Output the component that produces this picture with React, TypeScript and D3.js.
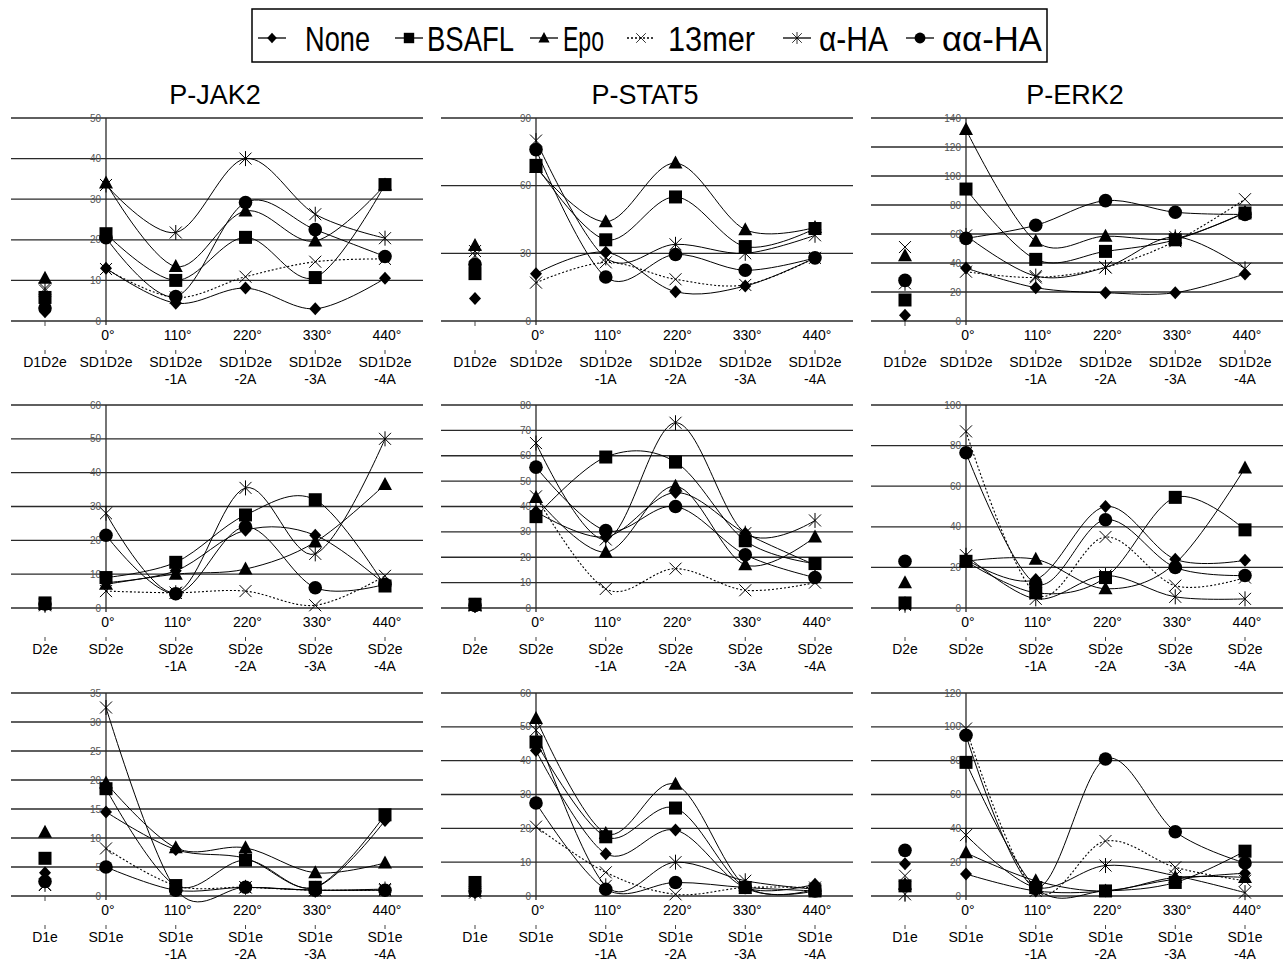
import React from 'react';
import * as d3 from 'd3';

const SERIES = ['None', 'BSAFL', 'Epo', '13mer', 'α-HA', 'αα-HA'];
const PROTEINS = ['P-JAK2', 'P-STAT5', 'P-ERK2'];
const DEGREES = ['0°', '110°', '220°', '330°', '440°'];
const CONTROLS = ['D1D2e', 'D2e', 'D1e'];
const CONSTRUCTS = ['SD1D2e', 'SD2e', 'SD1e'];
const SUFFIXES = ['', '-1A', '-2A', '-3A', '-4A'];

// y axis max and step, rows (D1D2e, D2e, D1e) x columns (JAK2, STAT5, ERK2)
const Y_MAX = [[50, 90, 140], [60, 80, 100], [35, 60, 120]];
const Y_STEP = [[10, 30, 20], [10, 10, 20], [5, 10, 20]];

// each row: control, 0°, 110°, 220°, 330°, 440° ; rows in SERIES order
const jak2D1D2e = [
  [2.3, 13, 4.4, 8.1, 3, 10.5],
  [5.8, 21.5, 10, 20.6, 10.7, 33.6],
  [10.5, 34, 13.4, 27.1, 19.7, 33.5],
  [8, 12.8, 5.8, 10.9, 14.6, 15.3],
  [7.5, 33.5, 21.8, 40, 26.3, 20.4],
  [3.2, 20.5, 6, 29.2, 22.5, 15.9],
];
const stat5D1D2e = [
  [10, 21, 30.5, 13, 15.5, 28],
  [21, 69, 36, 55, 33, 41],
  [33.5, 68, 44, 70, 40.5, 41.5],
  [29, 17, 26, 18.5, 16, 28],
  [31, 80, 28, 34, 30, 38],
  [25, 76, 19.5, 29.5, 22.5, 28],
];
const erk2D1D2e = [
  [4, 36.5, 23, 19.5, 19.5, 32.5],
  [14.5, 91, 42.5, 48, 56, 74.5],
  [45, 132, 55, 58.5, 57, 75],
  [51, 34, 30, 37, 55, 84],
  [26, 59, 31, 37, 58, 36],
  [28, 57, 66, 83, 75, 73.5],
];
const jak2D2e = [
  [1, 7.5, 11, 23, 21.5, 7],
  [1.5, 9, 13.5, 27.5, 32, 6.5],
  [1, 7, 10, 11.5, 19.5, 36.5],
  [0.8, 5, 4.5, 5, 0.8, 9.5],
  [1, 28, 4.5, 35.5, 16, 50],
  [1.2, 21.5, 4.2, 24, 6, 7],
];
const stat5D2e = [
  [1, 38, 28, 45.5, 29.5, 17],
  [1.5, 36, 59.5, 57.5, 26.5, 17.5],
  [1, 43.5, 22, 48, 17, 28],
  [1, 44, 7.5, 15.5, 7, 10],
  [1, 65, 27, 73, 29.5, 34.5],
  [1, 55.5, 30.5, 40, 21, 12],
];
const erk2D2e = [
  [2, 24, 14, 50, 24, 23.5],
  [2.5, 23, 7.5, 15, 54.5, 38.5],
  [12.5, 23, 24, 9.5, 22, 69],
  [1.5, 87, 7, 35, 11, 15],
  [2, 26, 4.5, 16, 5.5, 4.5],
  [23, 76.5, 12, 43.5, 20, 16],
];
const jak2D1e = [
  [4, 14.5, 8, 6.5, 1.5, 13],
  [6.5, 18.5, 1.8, 6.2, 1.5, 14],
  [11, 19.5, 8.3, 8.3, 4, 5.7],
  [1.9, 8.2, 1.8, 1.5, 1, 1],
  [2, 32.5, 1.2, 1.5, 1, 1.2],
  [2.5, 5, 1, 1.5, 1, 1],
];
const stat5D1e = [
  [1, 43, 12.5, 19.5, 2.5, 3.5],
  [4, 45.5, 17.5, 26, 2.5, 1.5],
  [1.5, 52.5, 18.5, 33, 3, 2],
  [1, 20.5, 7, 0.5, 2.5, 2.5],
  [1.5, 49, 3, 10, 4.5, 2],
  [1.5, 27.5, 2, 4, 2.5, 1.5],
];
const erk2D1e = [
  [19, 13, 3, 3, 10, 13.5],
  [6, 79, 5, 3, 8, 26.5],
  [7, 25.5, 9, 3, 11, 11],
  [12, 99, 3, 32.5, 17, 9],
  [1, 36, 5, 18, 12, 2],
  [27, 95, 5, 81, 38, 19.5],
];

const PANELS = [
  [jak2D1D2e, stat5D1D2e, erk2D1D2e],
  [jak2D2e, stat5D2e, erk2D2e],
  [jak2D1e, stat5D1e, erk2D1e],
];

const W = 1287;
const H = 962;
const COL_X = [0, 430, 860];
const ROW_TOP = [118, 405, 693];
const PLOT_H = 203;
const FONT = 'Liberation Sans, Arial, sans-serif';

const LEGEND_ITEMS = [
  { x: 258, tx: 305, tw: 65 },
  { x: 395, tx: 427, tw: 87 },
  { x: 530, tx: 563, tw: 41 },
  { x: 627, tx: 668, tw: 87 },
  { x: 783, tx: 819, tw: 69 },
  { x: 906, tx: 942, tw: 100 },
];

function Marker({ kind, x, y, s = 1 }: { kind: number; x: number; y: number; s?: number }) {
  const t = `translate(${x},${y}) scale(${s})`;
  if (kind === 0) return <path transform={t} d="M0,-6.5L6,0L0,6.5L-6,0Z" fill="#000" />;
  if (kind === 1) return <rect transform={t} x={-6.5} y={-6.5} width={13} height={13} fill="#000" />;
  if (kind === 2) return <path transform={t} d="M0,-7.5L7,5.5L-7,5.5Z" fill="#000" />;
  if (kind === 3)
    return (
      <path transform={t} d="M-6,-6L6,6M6,-6L-6,6" stroke="#000" strokeWidth={1} fill="none" />
    );
  if (kind === 4)
    return (
      <path transform={t} d="M-6,-6L6,6M6,-6L-6,6M0,-7.5L0,7.5" stroke="#000" strokeWidth={1} fill="none" />
    );
  return <circle transform={t} r={6.8} fill="#000" />;
}

function Panel({ row, col }: { row: number; col: number }) {
  const ox = COL_X[col];
  const top = ROW_TOP[row];
  const zero = top + PLOT_H;
  const data = PANELS[row][col];
  const y = d3.scaleLinear().domain([0, Y_MAX[row][col]]).range([zero, top]);
  const ticks = d3.range(0, Y_MAX[row][col] + 0.001, Y_STEP[row][col]);
  // control sits left of the y axis, the five constructs right of it
  const x = d3.scaleLinear().domain([0, 1, 5]).range([ox + 45, ox + 106, ox + 385]);
  const axisX = x(1);
  const line = d3
    .line<number>()
    .x((_, i) => x(i + 1))
    .y((v) => y(v))
    .curve(d3.curveCardinal.tension(0));

  return (
    <g>
      {ticks.map((t) => (
        <line key={'g' + t} x1={ox + 11} x2={ox + 423} y1={y(t)} y2={y(t)} stroke="#2a2a2a" strokeWidth={1.3} />
      ))}
      <line x1={axisX} x2={axisX} y1={top} y2={zero + 4} stroke="#2a2a2a" strokeWidth={1.3} />
      {ticks.map((t) => (
        <text
          key={'t' + t}
          x={axisX - 5}
          y={y(t) + 3.5}
          textAnchor="end"
          fontSize={10}
          fill="#555"
          fontFamily={FONT}
        >
          {t}
        </text>
      ))}
      <line x1={x(0)} x2={x(0)} y1={zero} y2={zero + 5} stroke="#444" />
      {d3.range(6).map((i) => (
        <line key={'k' + i} x1={x(i)} x2={x(i)} y1={zero + 29} y2={zero + 33} stroke="#444" />
      ))}
      {DEGREES.map((d, i) => (
        <text key={'d' + i} x={x(i + 1) + 2} y={zero + 19} textAnchor="middle" fontSize={14} fontFamily={FONT}>
          {d}
        </text>
      ))}
      <text x={x(0)} y={zero + 46} textAnchor="middle" fontSize={14} fontFamily={FONT}>
        {CONTROLS[row]}
      </text>
      {SUFFIXES.map((s, i) => (
        <text key={'c' + i} x={x(i + 1)} textAnchor="middle" fontSize={14} fontFamily={FONT}>
          <tspan x={x(i + 1)} y={zero + 46}>
            {CONSTRUCTS[row]}
          </tspan>
          {s && (
            <tspan x={x(i + 1)} y={zero + 63}>
              {s}
            </tspan>
          )}
        </text>
      ))}
      {data.map((vals, si) => (
        <path
          key={'l' + si}
          d={line(vals.slice(1)) || ''}
          fill="none"
          stroke="#000"
          strokeWidth={si === 3 ? 1.1 : 1}
          strokeDasharray={si === 3 ? '2,2' : undefined}
        />
      ))}
      {data.map((vals, si) =>
        vals.map((v, i) => <Marker key={'m' + si + '-' + i} kind={si} x={x(i)} y={y(v)} />)
      )}
    </g>
  );
}

export default function App() {
  return (
    <svg
      width={W}
      height={H}
      viewBox={`0 0 ${W} ${H}`}
      style={{ position: 'absolute', left: 0, top: 0, background: '#fff' }}
    >
      <rect x={252} y={9} width={795} height={53} fill="#fff" stroke="#000" strokeWidth={1.5} />
      {SERIES.map((name, i) => {
        const it = LEGEND_ITEMS[i];
        return (
          <g key={name}>
            <line
              x1={it.x}
              x2={it.x + 28}
              y1={38}
              y2={38}
              stroke="#000"
              strokeWidth={1.3}
              strokeDasharray={i === 3 ? '2,2' : undefined}
            />
            <Marker kind={i} x={it.x + 14} y={38} s={0.8} />
            <text
              x={it.tx}
              y={51}
              fontSize={35}
              fontFamily={FONT}
              textLength={it.tw}
              lengthAdjust="spacingAndGlyphs"
            >
              {name}
            </text>
          </g>
        );
      })}
      {PROTEINS.map((p, c) => (
        <text key={p} x={COL_X[c] + 215} y={104} textAnchor="middle" fontSize={27} fontFamily={FONT}>
          {p}
        </text>
      ))}
      {[0, 1, 2].map((r) => [0, 1, 2].map((c) => <Panel key={r + '-' + c} row={r} col={c} />))}
    </svg>
  );
}
